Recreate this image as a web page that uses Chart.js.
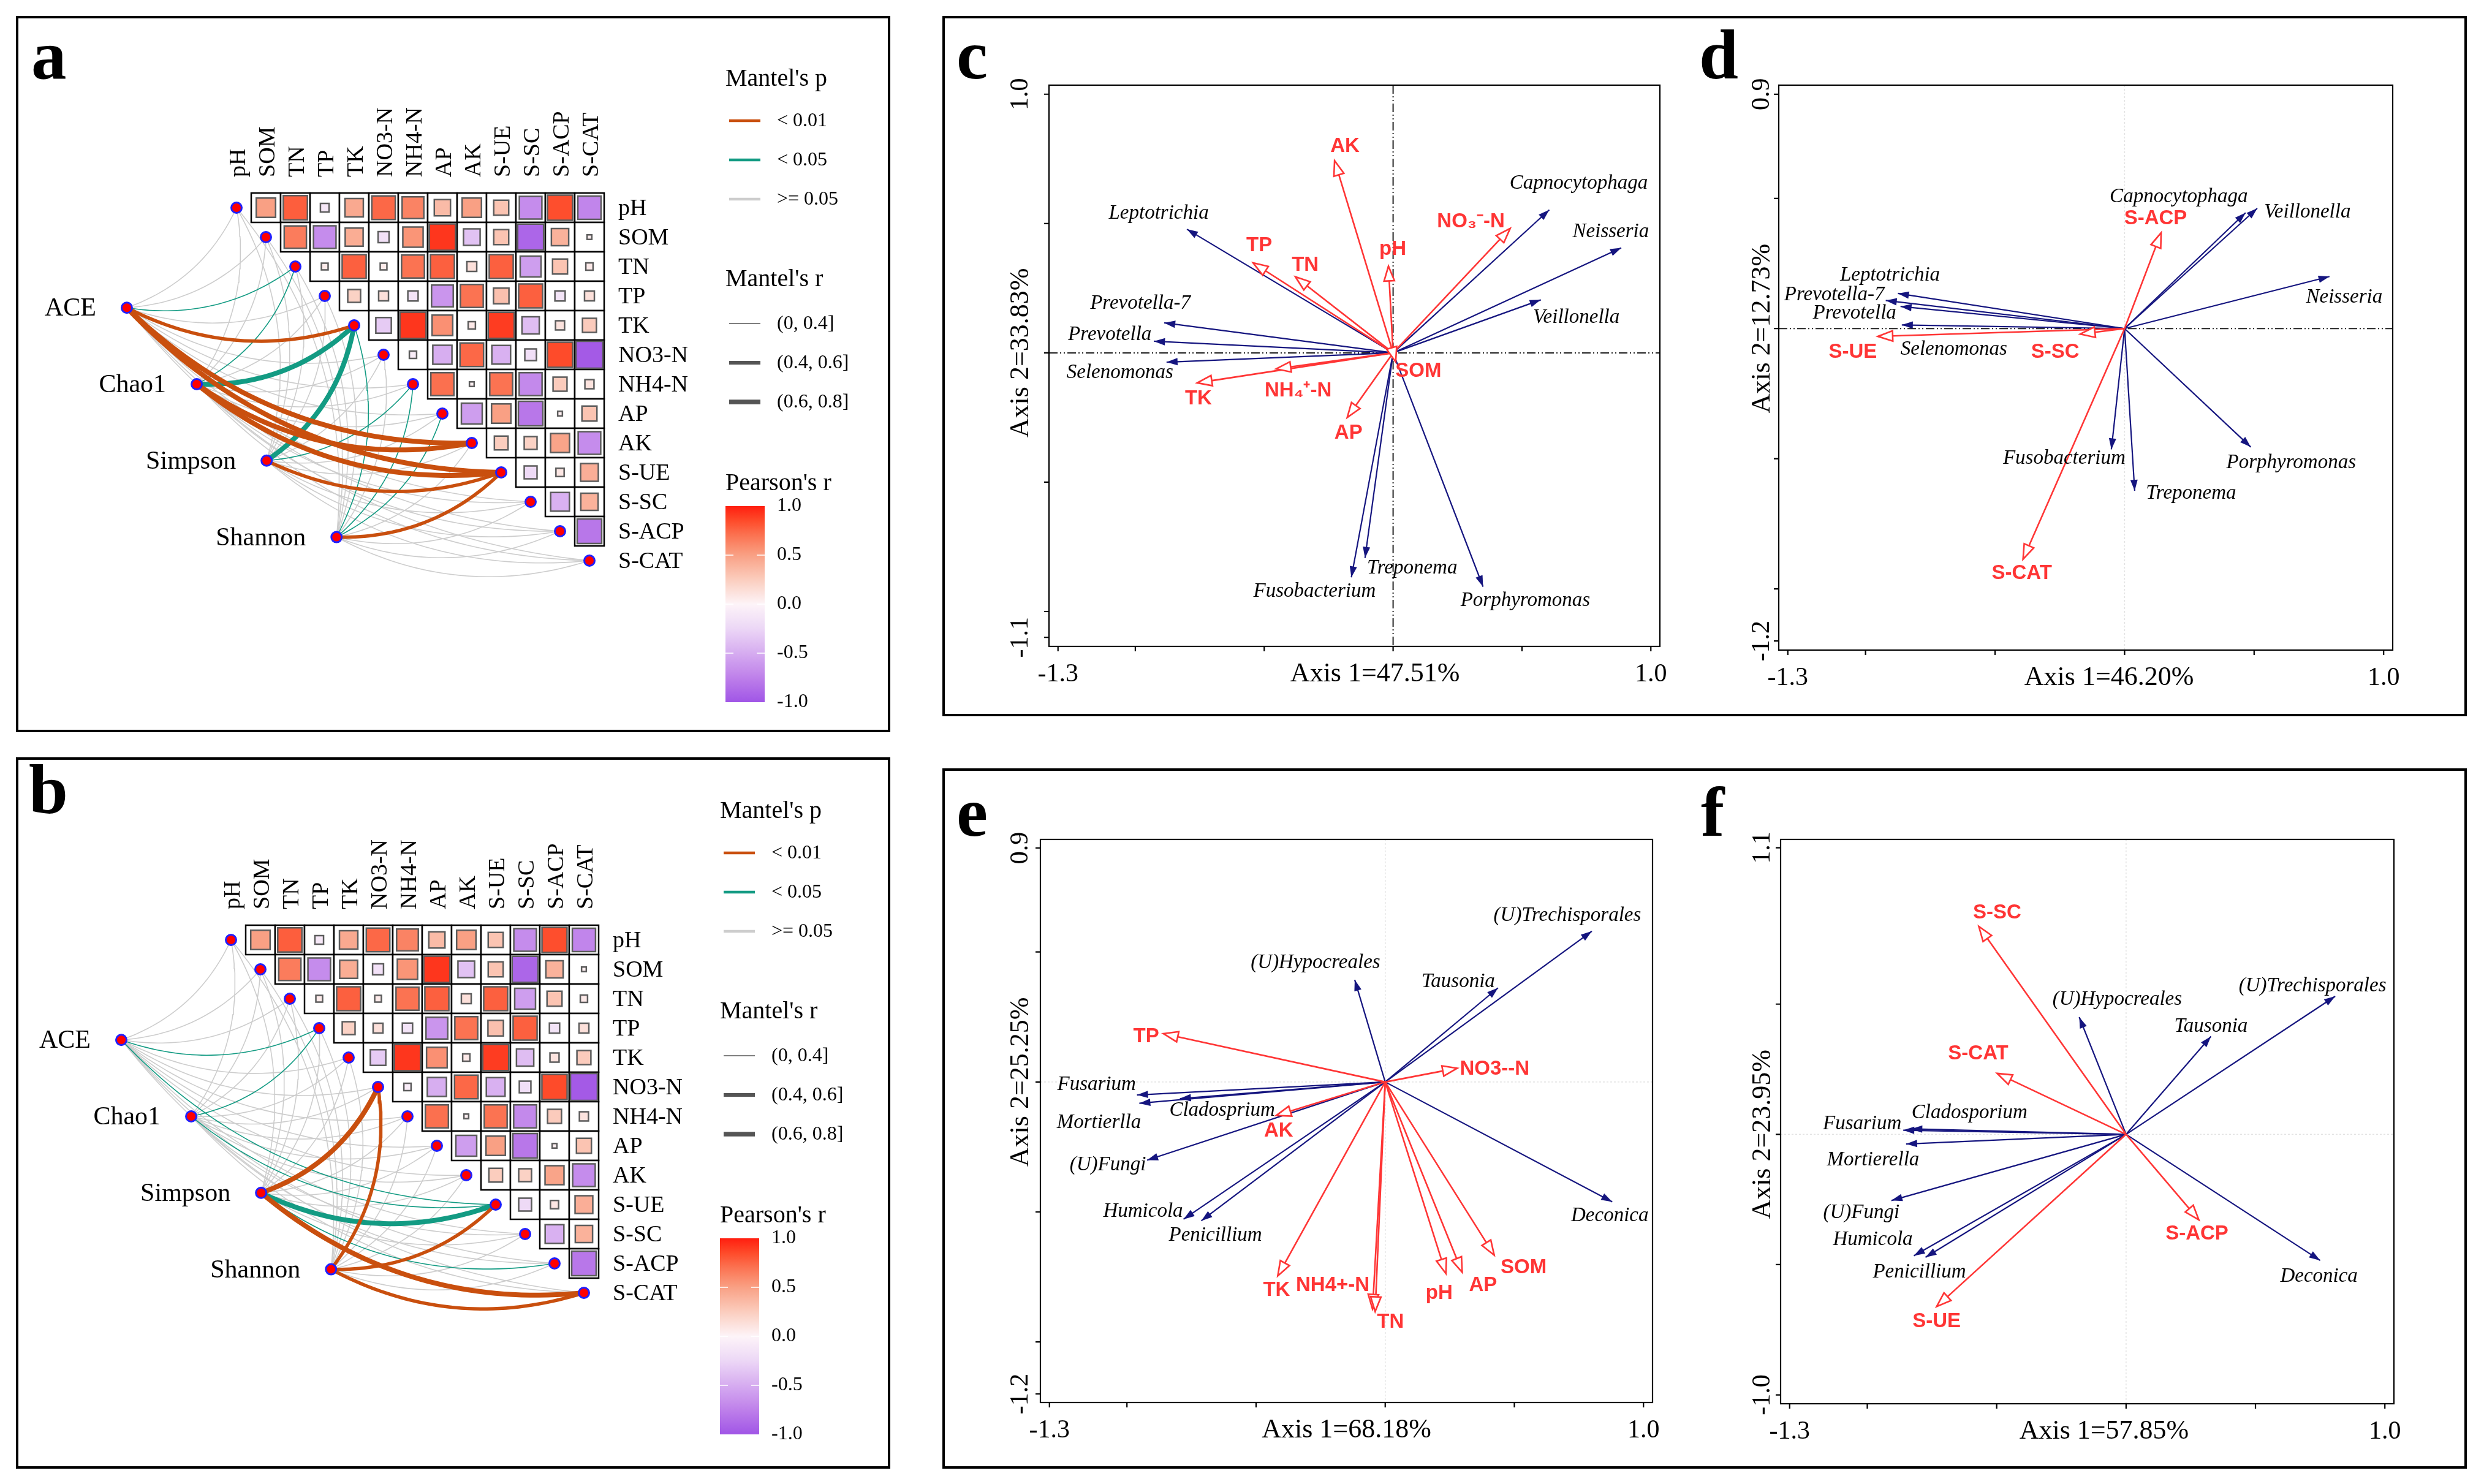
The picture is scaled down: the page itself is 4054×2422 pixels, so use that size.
<!DOCTYPE html>
<html><head><meta charset="utf-8">
<script src="https://cdn.jsdelivr.net/npm/chart.js@4.4.1/dist/chart.umd.min.js"></script>
<style>
html,body{margin:0;padding:0;background:#fff;}
body{width:4054px;height:2422px;position:relative;overflow:hidden;}
.frame{position:absolute;border:4px solid #000;box-sizing:border-box;}
canvas{position:absolute;}
</style></head><body>
<div class="frame" style="left:26px;top:26px;width:1427px;height:1169px"></div>
<div class="frame" style="left:26px;top:1236px;width:1427px;height:1161px"></div>
<div class="frame" style="left:1538px;top:26px;width:2488px;height:1143px"></div>
<div class="frame" style="left:1538px;top:1254px;width:2488px;height:1143px"></div>
<canvas id="ca" width="1420" height="1162" style="left:30px;top:30px;width:1420px;height:1162px"></canvas>
<canvas id="cb" width="1420" height="1154" style="left:30px;top:1240px;width:1420px;height:1154px"></canvas>
<canvas id="cc" width="1200" height="1135" style="left:1542px;top:30px;width:1200px;height:1135px"></canvas>
<canvas id="cd" width="1280" height="1135" style="left:2742px;top:30px;width:1280px;height:1135px"></canvas>
<canvas id="ce" width="1200" height="1135" style="left:1542px;top:1258px;width:1200px;height:1135px"></canvas>
<canvas id="cf" width="1280" height="1135" style="left:2742px;top:1258px;width:1280px;height:1135px"></canvas>
<script>
// ---------------- DATA ----------------
const envVars = ['pH','SOM','TN','TP','TK','NO3-N','NH4-N','AP','AK','S-UE','S-SC','S-ACP','S-CAT'];
const specVars = ['ACE','Chao1','Simpson','Shannon'];
// Pearson's r (upper triangle): row i lists columns i+1 .. 12
const corrPH   = [0.50,0.78,-0.10,0.45,0.74,0.63,0.35,0.50,0.30,-0.68,0.84,-0.72];
const corrSOM  = [0.66,-0.68,0.43,-0.16,0.55,0.92,-0.37,0.30,-0.90,0.40,0.03];
const corrTN   = [0.06,0.77,0.06,0.70,0.77,0.13,0.77,-0.58,0.30,0.07];
const corrTP   = [0.22,0.13,-0.14,-0.63,0.70,0.32,0.77,-0.14,0.13];
const corrTK   = [-0.32,0.92,0.57,0.07,0.90,-0.40,0.11,0.26];
const corrNO3  = [-0.07,-0.49,0.74,-0.47,-0.18,0.85,-0.97];
const corrNH4  = [0.71,0.03,0.70,-0.70,0.26,0.11];
const corrAP   = [-0.58,0.50,-0.80,0.03,0.30];
const corrAK   = [0.25,0.22,0.48,-0.68];
const corrSUE  = [-0.22,0.09,0.42];
const corrSSC  = [-0.47,0.40];
const corrSACP = [-0.80];
const corrRows = [corrPH,corrSOM,corrTN,corrTP,corrTK,corrNO3,corrNH4,corrAP,corrAK,corrSUE,corrSSC,corrSACP];
// Mantel's p class (1: <0.01, 2: <0.05, 3: >=0.05); Mantel's r class (1: (0,0.4], 2: (0.4,0.6], 3: (0.6,0.8])
const mantelP_a = [
  [3,3,2,3,1,3,3,3,1,1,3,3,3],
  [3,3,2,3,2,3,3,3,1,1,3,3,3],
  [3,3,3,3,2,3,2,3,3,1,3,3,3],
  [3,3,3,3,2,3,2,2,3,1,3,3,3]];
const mantelR_a = [
  [1,1,1,1,2,1,1,1,3,3,1,1,1],
  [1,1,1,1,3,1,1,1,3,3,1,1,1],
  [1,1,1,1,3,1,1,1,1,2,1,1,1],
  [1,1,1,1,1,1,1,1,1,2,1,1,1]];
const mantelP_b = [
  [3,3,3,2,3,3,3,3,3,2,3,3,3],
  [3,3,3,2,3,3,3,3,3,2,3,3,3],
  [3,3,3,3,3,1,3,3,3,2,3,2,1],
  [3,3,3,3,3,1,3,3,3,1,3,3,1]];
const mantelR_b = [
  [1,1,1,1,1,1,1,1,1,1,1,1,1],
  [1,1,1,1,1,1,1,1,1,1,1,1,1],
  [1,1,1,1,1,3,1,1,1,3,1,1,3],
  [1,1,1,1,1,2,1,1,1,2,1,1,2]];

// RDA panel c (bacteria vs soil properties)
const speciesC = ['Leptotrichia','Prevotella-7','Prevotella','Selenomonas','Capnocytophaga','Neisseria','Veillonella','Fusobacterium','Treponema','Porphyromonas'];
const spCX = [-0.800,-0.888,-0.928,-0.879,0.606,0.885,0.573,-0.162,-0.109,0.349];
const spCY = [0.478,0.116,0.045,-0.036,0.553,0.406,0.205,-0.868,-0.793,-0.904];
const envC = ['AK','TP','TN','pH','NO₃⁻-N','SOM','NH₄⁺-N','TK','AP'];
const envCX = [-0.227,-0.543,-0.379,-0.018,0.454,0.010,-0.454,-0.760,-0.178];
const envCY = [0.743,0.348,0.294,0.335,0.481,-0.035,-0.062,-0.116,-0.250];
// panel d (bacteria vs enzymes)
const speciesD = ['Capnocytophaga','Veillonella','Neisseria','Leptotrichia','Prevotella-7','Prevotella','Selenomonas','Fusobacterium','Treponema','Porphyromonas'];
const spDX = [0.467,0.512,0.791,-0.875,-0.922,-0.865,-0.860,-0.051,0.039,0.487];
const spDY = [0.445,0.462,0.200,0.135,0.108,0.085,0.014,-0.464,-0.623,-0.455];
const envD = ['S-ACP','S-UE','S-SC','S-CAT'];
const envDX = [0.141,-0.952,-0.171,-0.392];
const envDY = [0.368,-0.030,-0.021,-0.886];
// panel e (fungi vs soil properties)
const speciesE = ['(U)Trechisporales','(U)Hypocreales','Tausonia','Fusarium','Mortierlla','Cladosprium','(U)Fungi','Humicola','Penicillium','Deconica'];
const spEX = [0.800,-0.118,0.437,-0.961,-0.952,-0.795,-0.922,-0.781,-0.712,0.879];
const spEY = [0.580,0.393,0.362,-0.050,-0.082,-0.064,-0.301,-0.528,-0.534,-0.461];
const envE = ['TP','NO3--N','AK','TK','NH4+-N','TN','pH','AP','SOM'];
const envEX = [-0.859,0.279,-0.422,-0.416,-0.049,-0.039,0.235,0.298,0.422];
const envEY = [0.186,0.053,-0.129,-0.746,-0.874,-0.883,-0.737,-0.732,-0.666];
// panel f (fungi vs enzymes)
const speciesF = ['(U)Trechisporales','(U)Hypocreales','Tausonia','Cladosporium','Fusarium','Mortierella','(U)Fungi','Humicola','Penicillium','Deconica'];
const spFX = [0.808,-0.181,0.328,-0.830,-0.861,-0.850,-0.907,-0.820,-0.775,0.750];
const spFY = [0.530,0.450,0.376,0.021,0.016,-0.037,-0.254,-0.466,-0.472,-0.484];
const envF = ['S-SC','S-CAT','S-ACP','S-UE'];
const envFX = [-0.569,-0.498,0.281,-0.732];
const envFY = [0.798,0.234,-0.328,-0.661];

const axisC = ['Axis 1=47.51%','Axis 2=33.83%'];
const axisD = ['Axis 1=46.20%','Axis 2=12.73%'];
const axisE = ['Axis 1=68.18%','Axis 2=25.25%'];
const axisF = ['Axis 1=57.85%','Axis 2=23.95%'];

// ---------------- STYLE / LAYOUT ----------------
const SERIF = '"Liberation Serif", "Times New Roman", serif';
const SANS = '"Liberation Sans", Arial, sans-serif';
const PCOL = ['#C94F0E','#139B83','#CDCDCD'];
const RW = [1.6,5.5,8.0];
const NAVY = '#15157F', RED = '#FF3535';

function colorFor(r){
  const st=[[-1,[160,85,230]],[-0.75,[190,128,234]],[-0.5,[214,172,240]],[-0.25,[236,215,246]],[0,[253,244,248]],[0.25,[251,205,190]],[0.5,[249,160,132]],[0.7,[251,115,82]],[0.85,[254,75,42]],[1,[255,30,15]]];
  r=Math.max(-1,Math.min(1,r));
  for(let k=0;k<st.length-1;k++){
    const a=st[k][0],b=st[k+1][0];
    if(r<=b){const t=(r-a)/(b-a),ca=st[k][1],cb=st[k+1][1];
      return 'rgb('+ca.map((v,i)=>Math.round(v+(cb[i]-v)*t)).join(',')+')';}
  }
  return 'rgb(255,30,15)';
}

function buildMantel(id, cv, shift, letter, letterPos, P, R){
  const el=document.getElementById(id);
  const W=el.width,H=el.height,cs=48;
  const oX=386+shift[0]-cv[0], oY=339+shift[1]-cv[1];
  const X0=-5,X1=14,Y0=-1.5,Y1=14;
  const pad={left:oX+X0*cs,right:W-(oX+X1*cs),top:oY+Y0*cs,bottom:H-(oY+Y1*cs)};
  const specPos=specVars.map((s,k)=>({x:-3.73+2.377*k,y:3.40+2.6*k}));
  const datasets=[];
  const edges=[];
  specVars.forEach((s,k)=>envVars.forEach((e,j)=>edges.push({k,j,p:P[k][j],r:R[k][j]})));
  edges.sort((a,b)=>(b.p-a.p)||(a.r-b.r));
  edges.forEach((ed,idx)=>{
    const a=specPos[ed.k], b={x:ed.j,y:ed.j};
    const dx=b.x-a.x, dy=b.y-a.y, c=0.21;
    const cx=(a.x+b.x)/2-c*dy, cy=(a.y+b.y)/2+c*dx;
    const pts=[];
    for(let s=0;s<=40;s++){const t=s/40,u=1-t;pts.push({x:u*u*a.x+2*u*t*cx+t*t*b.x,y:u*u*a.y+2*u*t*cy+t*t*b.y});}
    datasets.push({data:pts,showLine:true,borderColor:PCOL[ed.p-1],borderWidth:RW[ed.r-1],pointRadius:0,order:1000-idx,clip:false});
  });
  const cells=[],sq=[];
  corrRows.forEach((row,i)=>row.forEach((v,m)=>{const j=i+1+m;cells.push({x:j,y:i});sq.push({x:j,y:i,r:v});}));
  datasets.push({data:cells,pointStyle:'rect',pointRadius:cs*Math.SQRT1_2,pointBackgroundColor:'#fff',pointBorderColor:'#000',pointBorderWidth:2.5,order:2,clip:false});
  datasets.push({data:sq,pointStyle:'rect',
    pointRadius:c=>c.raw?Math.sqrt(Math.abs(c.raw.r))*0.93*cs*Math.SQRT1_2:0,
    pointBackgroundColor:c=>c.raw?colorFor(c.raw.r):'#fff',
    pointBorderColor:'#5C5C5C',pointBorderWidth:2.5,order:1,clip:false});
  const nodes=envVars.map((e,j)=>({x:j,y:j})).concat(specPos);
  datasets.push({data:nodes,pointStyle:'circle',pointRadius:8.5,pointBackgroundColor:'#FF0000',pointBorderColor:'#2020FF',pointBorderWidth:3,order:0,clip:false});

  const plugin={id:'mantelText',afterDraw(chart){
    const ctx=chart.ctx,xs=chart.scales.x,ys=chart.scales.y;
    ctx.save();ctx.fillStyle='#000';
    ctx.font='38px '+SERIF;
    envVars.forEach((e,j)=>{
      const px=xs.getPixelForValue(j), top=ys.getPixelForValue(0)-cs/2;
      ctx.save();ctx.translate(px+4,top-26);ctx.rotate(-Math.PI/2);
      ctx.textAlign='left';ctx.textBaseline='middle';ctx.fillText(e,0,0);ctx.restore();
      ctx.textAlign='left';ctx.textBaseline='middle';
      ctx.fillText(e,xs.getPixelForValue(12)+cs/2+23,ys.getPixelForValue(j)+2);
    });
    ctx.font='42px '+SERIF;ctx.textAlign='right';ctx.textBaseline='middle';
    specPos.forEach((p,k)=>ctx.fillText(specVars[k],xs.getPixelForValue(p.x)-50,ys.getPixelForValue(p.y)+2));
    // legend
    const L=(x,y)=>[x+shift[0]-cv[0],y+shift[1]-cv[1]];
    ctx.textAlign='left';ctx.textBaseline='alphabetic';ctx.font='40px '+SERIF;
    let q=L(1184,140);ctx.fillText("Mantel's p",q[0],q[1]);
    q=L(1184,467);ctx.fillText("Mantel's r",q[0],q[1]);
    q=L(1184,800);ctx.fillText("Pearson's r",q[0],q[1]);
    ctx.font='32px '+SERIF;ctx.textBaseline='middle';
    const pl=['< 0.01','< 0.05','>= 0.05'],py=[197,261,325];
    pl.forEach((t,i)=>{const a=L(1190,py[i]),b=L(1241,py[i]);
      ctx.strokeStyle=PCOL[i];ctx.lineWidth=4.5;ctx.beginPath();ctx.moveTo(a[0],a[1]);ctx.lineTo(b[0],b[1]);ctx.stroke();
      const c=L(1268,py[i]);ctx.fillText(t,c[0],c[1]+1);});
    const rl=['(0, 0.4]','(0.4, 0.6]','(0.6, 0.8]'],ry=[528,592,656],rk=[1.6,6,7.5];
    rl.forEach((t,i)=>{const a=L(1190,ry[i]),b=L(1241,ry[i]);
      ctx.strokeStyle='#555';ctx.lineWidth=rk[i];ctx.beginPath();ctx.moveTo(a[0],a[1]);ctx.lineTo(b[0],b[1]);ctx.stroke();
      const c=L(1268,ry[i]);ctx.fillText(t,c[0],c[1]+1);});
    const c0=L(1184,826),c1=L(1248,1146);
    const g=ctx.createLinearGradient(0,c0[1],0,c1[1]);
    for(let s=0;s<=40;s++){g.addColorStop(s/40,colorFor(1-2*s/40));}
    ctx.fillStyle=g;ctx.fillRect(c0[0],c0[1],c1[0]-c0[0],c1[1]-c0[1]);
    ctx.strokeStyle='#fff';ctx.lineWidth=1.5;
    [0.5,0,-0.5].forEach(v=>{const y=c0[1]+(1-v)/2*(c1[1]-c0[1]);
      ctx.beginPath();ctx.moveTo(c0[0],y);ctx.lineTo(c0[0]+13,y);ctx.moveTo(c1[0]-13,y);ctx.lineTo(c1[0],y);ctx.stroke();});
    ctx.fillStyle='#000';
    ['1.0','0.5','0.0','-0.5','-1.0'].forEach((t,i)=>{const c=L(1268,826+80*i);ctx.fillText(t,c[0],c[1]);});
    ctx.font='bold 115px '+SERIF;ctx.textBaseline='alphabetic';ctx.textAlign='left';
    ctx.fillText(letter,letterPos[0]-cv[0],letterPos[1]-cv[1]);
    ctx.restore();
  }};
  return new Chart(el,{type:'scatter',data:{datasets},options:{responsive:false,animation:false,events:[],
    layout:{padding:pad},
    scales:{x:{type:'linear',min:X0,max:X1,display:false},y:{type:'linear',min:Y0,max:Y1,reverse:true,display:false}},
    plugins:{legend:{display:false},tooltip:{enabled:false}}},plugins:[plugin]});
}

function drawHead(ctx,x0,y0,x1,y1,kind){
  const dx=x1-x0,dy=y1-y0,l=Math.hypot(dx,dy)||1,ux=dx/l,uy=dy/l,nx=-uy,ny=ux;
  const L=kind==='sp'?18:24, w=kind==='sp'?6:8.5;
  const bx=x1-ux*L,by=y1-uy*L;
  ctx.beginPath();ctx.moveTo(x1,y1);ctx.lineTo(bx+nx*w,by+ny*w);ctx.lineTo(bx-nx*w,by-ny*w);ctx.closePath();
  if(kind==='sp'){ctx.fillStyle=NAVY;ctx.fill();}
  else{ctx.fillStyle='#fff';ctx.fill();ctx.strokeStyle=RED;ctx.lineWidth=2.6;ctx.lineJoin='miter';ctx.stroke();}
}

function buildOrd(id, cfg){
  const el=document.getElementById(id);
  const W=el.width,H=el.height,cv=cfg.cv,pl=cfg.plot;
  const pad={left:pl[0]-cv[0],top:pl[1]-cv[1],right:cv[0]+W-pl[2],bottom:cv[1]+H-pl[3]};
  const datasets=[];
  cfg.sp.forEach((n,i)=>datasets.push({label:n,kind:'sp',data:[{x:0,y:0},{x:cfg.spX[i],y:cfg.spY[i]}],showLine:true,borderColor:NAVY,borderWidth:2.2,pointRadius:0,order:2,clip:false}));
  cfg.env.forEach((n,i)=>datasets.push({label:n,kind:'env',data:[{x:0,y:0},{x:cfg.envX[i],y:cfg.envY[i]}],showLine:true,borderColor:RED,borderWidth:2.6,pointRadius:0,order:1,clip:false}));
  const plugin={id:'ordDraw',
    beforeDatasetsDraw(chart){
      const ctx=chart.ctx,xs=chart.scales.x,ys=chart.scales.y,ca=chart.chartArea;
      const x0=xs.getPixelForValue(0),y0=ys.getPixelForValue(0);
      ctx.save();
      const dark=()=>{ctx.strokeStyle='#222';ctx.lineWidth=2;ctx.setLineDash([14,4,2,4,2,4]);};
      const faint=()=>{ctx.strokeStyle='#E2E2E2';ctx.lineWidth=1.5;ctx.setLineDash([3,3]);};
      (cfg.zero[0]?dark:faint)();
      ctx.beginPath();ctx.moveTo(ca.left,y0);ctx.lineTo(ca.right,y0);ctx.stroke();
      (cfg.zero[1]?dark:faint)();
      ctx.beginPath();ctx.moveTo(x0,ca.top);ctx.lineTo(x0,ca.bottom);ctx.stroke();
      ctx.restore();
    },
    afterDatasetsDraw(chart){
      const ctx=chart.ctx,xs=chart.scales.x,ys=chart.scales.y,ca=chart.chartArea;
      ctx.save();
      chart.data.datasets.forEach((ds,i)=>{const m=chart.getDatasetMeta(i);const p0=m.data[0],p1=m.data[1];
        drawHead(ctx,p0.x,p0.y,p1.x,p1.y,ds.kind);});
      ctx.textAlign='center';ctx.textBaseline='middle';
      chart.data.datasets.forEach((ds,i)=>{const m=chart.getDatasetMeta(i);const p1=m.data[1];
        const o=cfg.off[ds.label]||[0,0];
        if(ds.kind==='sp'){ctx.font='italic 33px '+SERIF;ctx.fillStyle='#000';}
        else{ctx.font='bold 33px '+SANS;ctx.fillStyle=RED;}
        ctx.fillText(ds.label,p1.x+o[0],p1.y+o[1]);});
      // frame and ticks
      ctx.strokeStyle='#000';ctx.lineWidth=2.2;ctx.setLineDash([]);
      ctx.strokeRect(ca.left,ca.top,ca.width,ca.height);
      ctx.beginPath();
      [-1.3,-1,-0.5,0,0.5,1].forEach(v=>{const x=xs.getPixelForValue(v);ctx.moveTo(x,ca.bottom);ctx.lineTo(x,ca.bottom+8);});
      cfg.yTicks.forEach(v=>{const y=ys.getPixelForValue(v);ctx.moveTo(ca.left,y);ctx.lineTo(ca.left-8,y);});
      ctx.stroke();
      ctx.fillStyle='#000';ctx.font='42px '+SERIF;ctx.textAlign='center';ctx.textBaseline='alphabetic';
      ctx.fillText('-1.3',xs.getPixelForValue(-1.3),ca.bottom+57);
      ctx.fillText('1.0',xs.getPixelForValue(1.0),ca.bottom+57);
      ctx.font='44px '+SERIF;
      ctx.fillText(cfg.axis[0],xs.getPixelForValue(cfg.xTitleAt),ca.bottom+57);
      const yl=(t,y,f)=>{ctx.save();ctx.translate(ca.left-cfg.yOff,y);ctx.rotate(-Math.PI/2);ctx.font=f;ctx.textAlign='center';ctx.textBaseline='middle';ctx.fillText(t,0,0);ctx.restore();};
      const ye=cfg.yTicks[0],yb=cfg.yTicks[cfg.yTicks.length-1];
      yl(ye.toFixed(1),ys.getPixelForValue(ye),'42px '+SERIF);
      yl(yb.toFixed(1),ys.getPixelForValue(yb),'42px '+SERIF);
      yl(cfg.axis[1],ys.getPixelForValue(0),'44px '+SERIF);
      ctx.font='bold 115px '+SERIF;ctx.textAlign='left';ctx.textBaseline='alphabetic';
      ctx.fillText(cfg.letter,cfg.letterPos[0]-cv[0],cfg.letterPos[1]-cv[1]);
      ctx.restore();
    }};
  return new Chart(el,{type:'scatter',data:{datasets},options:{responsive:false,animation:false,events:[],
    layout:{padding:pad},
    scales:{x:{type:'linear',min:-1.335,max:1.035,display:false},y:{type:'linear',min:cfg.yr[0],max:cfg.yr[1],display:false}},
    plugins:{legend:{display:false},tooltip:{enabled:false}}},plugins:[plugin]});
}

// label offsets (pixels from arrow tip)
const offC={'Leptotrichia':[-46,-26],'Prevotella-7':[-39,-32],'Prevotella':[-72,-11],'Selenomonas':[-76,17],'Capnocytophaga':[48,-43],'Neisseria':[-17,-26],'Veillonella':[58,29],'Fusobacterium':[-60,23],'Treponema':[77,17],'Porphyromonas':[69,23],
  'AK':[17,-23],'TP':[10,-28],'TN':[16,-19],'pH':[7,-28],'NO₃⁻-N':[-64,-11],'SOM':[37,15],'NH₄⁺-N':[36,36],'TK':[2,26],'AP':[2,25]};
const offD={'Capnocytophaga':[-109,-26],'Veillonella':[82,6],'Neisseria':[24,34],'Leptotrichia':[-13,-30],'Prevotella-7':[-84,-9],'Prevotella':[-75,11],'Selenomonas':[85,40],'Fusobacterium':[-77,15],'Treponema':[92,4],'Porphyromonas':[66,26],
  'S-ACP':[-9,-23],'S-UE':[-41,26],'S-SC':[-41,30],'S-CAT':[-2,23]};
const offE={'(U)Trechisporales':[-40,-25],'(U)Hypocreales':[-64,-28],'Tausonia':[-65,-10],'Fusarium':[-66,-17],'Mortierlla':[-66,32],'Cladosprium':[69,19],'(U)Fungi':[-64,8],'Humicola':[-66,-13],'Penicillium':[23,24],'Deconica':[-4,23],
  'TP':[-28,5],'NO3--N':[61,2],'AK':[4,25],'TK':[-2,24],'NH4+-N':[-65,-39],'TN':[25,17],'pH':[-11,32],'AP':[34,21],'SOM':[48,20]};
const offF={'(U)Trechisporales':[-37,-17],'(U)Hypocreales':[62,-29],'Tausonia':[0,-16],'Cladosporium':[95,-26],'Fusarium':[-67,-10],'Mortierella':[-54,26],'(U)Fungi':[-49,20],'Humicola':[-67,-26],'Penicillium':[-10,24],'Deconica':[-2,26],
  'S-SC':[30,-22],'S-CAT':[-31,-32],'S-ACP':[-3,23],'S-UE':[0,25]};

buildMantel('ca',[30,30],[0,0],'a',[51,128],mantelP_a,mantelR_a);
buildMantel('cb',[30,1240],[-9,1195],'b',[47,1327],mantelP_b,mantelR_b);
buildOrd('cc',{cv:[1542,30],plot:[1712,139,2709,1055],yr:[-1.135,1.035],yTicks:[1.0,0.5,0,-0.5,-1.0,-1.1],yOff:46,xTitleAt:-0.07,axis:axisC,zero:[true,true],letter:'c',letterPos:[1561,128],
  sp:speciesC,spX:spCX,spY:spCY,env:envC,envX:envCX,envY:envCY,off:offC});
buildOrd('cd',{cv:[2742,30],plot:[2903,139,3905,1061],yr:[-1.235,0.935],yTicks:[0.9,0.5,0,-0.5,-1.0,-1.2],yOff:27,xTitleAt:-0.06,axis:axisD,zero:[true,false],letter:'d',letterPos:[2773,128],
  sp:speciesD,spX:spDX,spY:spDY,env:envD,envX:envDX,envY:envDY,off:offD});
buildOrd('ce',{cv:[1542,1258],plot:[1698,1370,2697,2289],yr:[-1.233,0.933],yTicks:[0.9,0.5,0,-0.5,-1.0,-1.2],yOff:32,xTitleAt:-0.15,axis:axisE,zero:[false,false],letter:'e',letterPos:[1561,1364],
  sp:speciesE,spX:spEX,spY:spEY,env:envE,envX:envEX,envY:envEY,off:offE});
buildOrd('cf',{cv:[2742,1258],plot:[2906,1370,3907,2291],yr:[-1.034,1.132],yTicks:[1.1,0.5,0,-0.5,-1.0],yOff:29,xTitleAt:-0.085,axis:axisF,zero:[false,false],letter:'f',letterPos:[2776,1364],
  sp:speciesF,spX:spFX,spY:spFY,env:envF,envX:envFX,envY:envFY,off:offF});
</script>
</body></html>
